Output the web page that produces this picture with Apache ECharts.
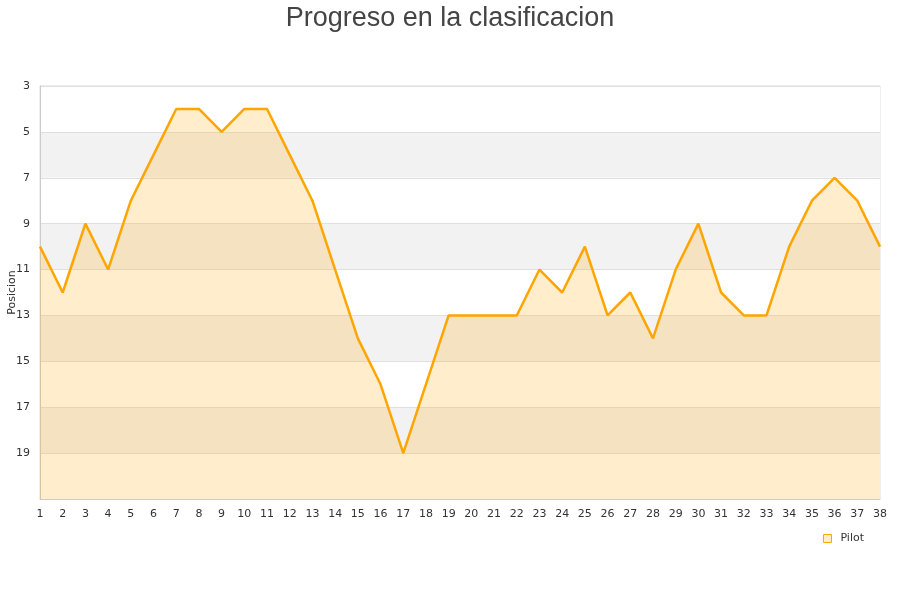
<!DOCTYPE html>
<html>
<head>
<meta charset="utf-8">
<script src="https://cdn.jsdelivr.net/npm/echarts@6/dist/echarts.min.js"></script>
<style>html,body{margin:0;padding:0;background:#fff}#c{width:900px;height:600px}</style>
</head>
<body>
<div id="c"></div>
<script>
const rounds = ['1','2','3','4','5','6','7','8','9','10','11','12','13','14','15','16','17','18','19','20','21','22','23','24','25','26','27','28','29','30','31','32','33','34','35','36','37','38'];
const positions = [10,12,9,11,8,6,4,4,5,4,4,6,8,11,14,16,19,16,13,13,13,13,11,12,10,13,12,14,11,9,12,13,13,10,8,7,8,10];
const seriesName = 'Pilot';
const titleText = 'Progreso en la clasificacion';
const yName = 'Posicion';

const chart = echarts.init(document.getElementById('c'), null, {renderer: 'canvas'});
chart.setOption({
  animation: false,
  title: {
    text: titleText, left: 'center', top: 0,
    textStyle: {fontFamily: 'Liberation Sans, Arial, sans-serif', fontSize: 27, fontWeight: 'normal', color: '#444'}
  },
  legend: {
    right: 31, top: 528, itemWidth: 8, itemHeight: 8, itemGap: 6,
    icon: 'rect',
    textStyle: {fontFamily: 'DejaVu Sans, sans-serif', fontSize: 11, color: '#333', padding: [0, 0, 0, 4]},
    data: [{name: seriesName, itemStyle: {color: 'rgba(255,165,0,0.2)', borderColor: '#FFA500', borderWidth: 1}}]
  },
  grid: {left: 40, right: 20, top: 86, bottom: 101, containLabel: false, outerBoundsMode: 'none',
    show: true, borderColor: '#ddd', borderWidth: 1, backgroundColor: 'transparent'},
  xAxis: {
    type: 'category', data: rounds, boundaryGap: false,
    axisLine: {lineStyle: {color: '#ccc'}},
    axisTick: {show: false},
    axisLabel: {interval: 0, fontFamily: 'DejaVu Sans, sans-serif', fontSize: 11, color: '#333', margin: 10},
    splitLine: {show: false}
  },
  yAxis: {
    type: 'value', inverse: true, min: 3, max: 21, interval: 2,
    name: yName, nameLocation: 'middle', nameGap: 22, nameMoveOverlap: false,
    nameTextStyle: {fontFamily: 'DejaVu Sans, sans-serif', fontSize: 11, color: '#333'},
    axisLine: {show: true, lineStyle: {color: '#ccc'}},
    axisTick: {show: false},
    axisLabel: {fontFamily: 'DejaVu Sans, sans-serif', fontSize: 11, color: '#333', margin: 10,
      padding: [5, 0, 0, 0],
      formatter: v => (v >= 21 ? '' : String(v))},
    splitLine: {show: true, lineStyle: {color: '#e0e0e0'}},
    splitArea: {show: true, areaStyle: {color: ['#ffffff', '#f2f2f2']}}
  },
  series: [{
    name: seriesName, type: 'line', data: positions,
    showSymbol: false, symbol: 'none',
    lineStyle: {color: '#FFA500', width: 2.5},
    itemStyle: {color: '#FFA500'},
    areaStyle: {color: '#FFA500', opacity: 0.2, origin: 'end'}
  }]
});
</script>
</body>
</html>
